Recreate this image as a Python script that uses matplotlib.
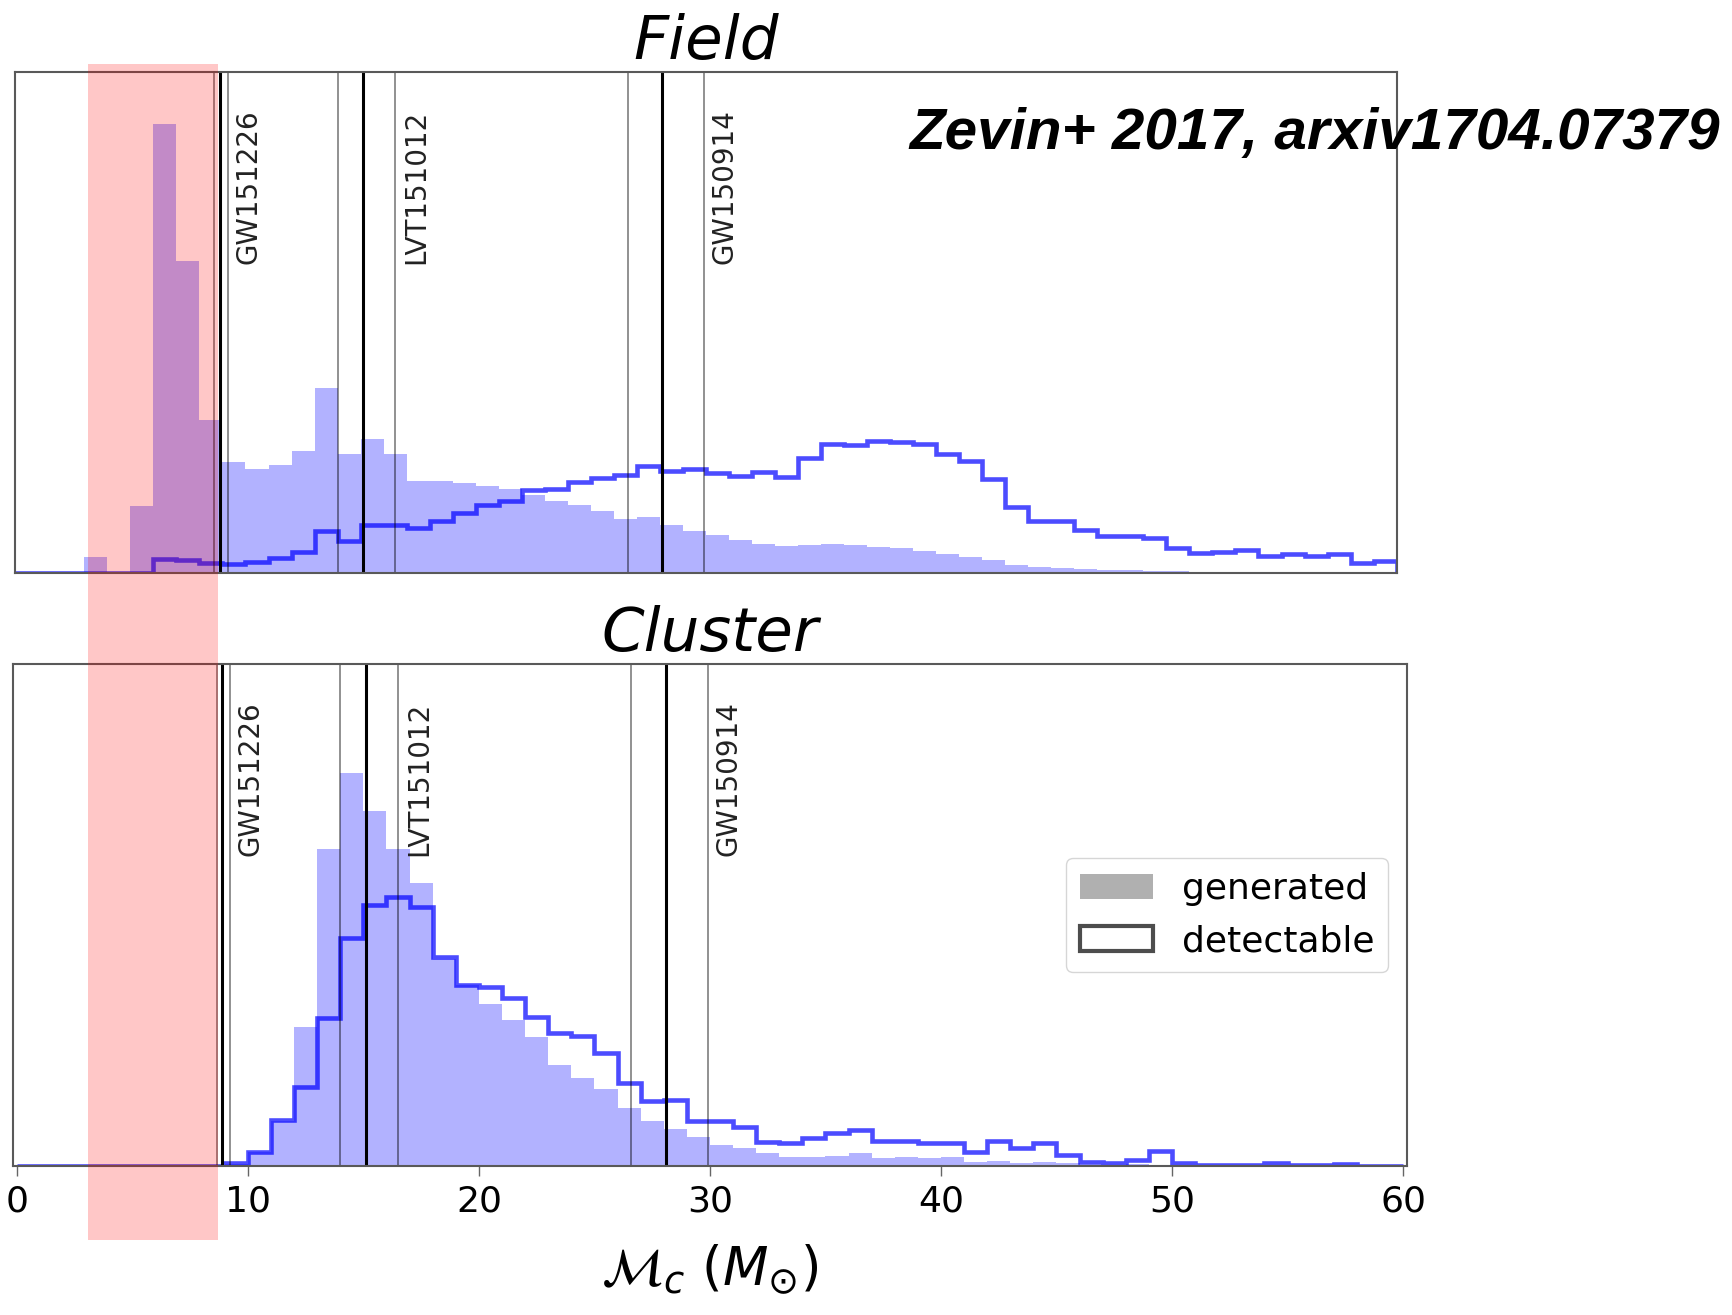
import numpy as np
import matplotlib.pyplot as plt
from matplotlib.patches import Patch, Rectangle
from matplotlib.transforms import blended_transform_factory

plt.rcParams['font.family'] = 'DejaVu Sans'

# chirp-mass bins, 1 Msun wide
mc_edges = np.arange(0, 61)

# relative bin heights (arbitrary normalisation)
field_generated = [
    0, 0, 0, 16, 0.5, 66.5, 449, 311.6, 153, 111,
    104, 107.7, 121.7, 185, 119.3, 134, 119.3, 91.7, 91.7, 90,
    86.7, 84.3, 78.3, 71.7, 68.3, 61.7, 54.3, 55.7, 47.7, 42.3,
    37.7, 33.3, 29.3, 26.7, 28.3, 29, 27.7, 26.3, 25, 21.7,
    19.3, 16, 12.7, 8.3, 6.3, 5, 4, 3, 2.7, 2,
    1.7, 1.3, 1, 0.8, 0.7, 0.6, 0.5, 0.4, 0.4, 0.3,
]
field_detectable = [
    0, 0, 0, 0, 0, 0.3, 13.8, 12.7, 10, 9,
    11, 15, 21, 42.3, 31.7, 48.3, 48.3, 45, 52.3, 59.7,
    67.7, 71.7, 83, 84.3, 91, 95, 98.3, 106.7, 102.3, 104,
    100, 97.3, 101, 95.7, 115, 129, 127.7, 131.7, 131.3, 129,
    119.3, 111.7, 94.3, 65.7, 52.3, 52.3, 43.3, 36.7, 37, 35,
    25, 20, 20.7, 23.3, 16.7, 19.3, 17.3, 19.3, 10, 12.3,
]
cluster_generated = [
    0, 0, 0, 0, 0, 0, 0, 0, 0, 2,
    14, 45, 139.3, 316.7, 392.7, 355.3, 316.7, 283.3, 207, 181,
    162, 146, 128.7, 101, 87.7, 76.7, 57.7, 45, 36.7, 29.3,
    21, 17.7, 12.7, 8.7, 9.3, 10, 12.7, 7.7, 8.7, 7.7,
    8.7, 4, 5.3, 3.3, 4, 2.7, 1.3, 1, 2, 1,
    0.7, 0.3, 0.3, 0.3, 0.3, 0.3, 0.3, 0.3, 0.3, 0.3,
]
cluster_detectable = [
    0, 0, 0, 0, 0, 0, 0, 0, 0.5, 3.3,
    14.3, 46, 79.3, 147.7, 228.3, 261, 268.7, 258.7, 209.3, 181,
    178.7, 167.7, 149.3, 133.3, 130, 113.3, 82.7, 65.3, 66, 45.3,
    45, 38.7, 24.3, 22.7, 27.7, 32.7, 36, 25.3, 25.3, 22.7,
    23.3, 14.3, 25.3, 17.7, 23.3, 11, 3.7, 2.7, 6, 15.5,
    3.5, 1.3, 0.7, 0.7, 2.7, 0.7, 0.7, 1.7, 0.5, 0.5,
]

# O1 events: chirp mass median and 90% interval
events = ['GW151226', 'LVT151012', 'GW150914']
mc_median = [8.9, 15.1, 28.1]
mc_low = [8.65, 14.0, 26.6]
mc_high = [9.23, 16.5, 29.9]

# shaded chirp-mass range
highlight = (3.1, 8.7)
xticks = [0, 10, 20, 30, 40, 50, 60]

fig = plt.figure(figsize=(17.33, 13.15), dpi=100)
ax_f = fig.add_axes([0.0088, 0.5643, 0.7971, 0.3810])
ax_c = fig.add_axes([0.0077, 0.1133, 0.8039, 0.3818])


def draw_panel(ax, generated, detectable, title, ymax, xlim, pad):
    ax.stairs(generated, mc_edges, fill=True, color='blue', alpha=0.3, lw=0)
    ax.stairs(detectable, mc_edges, color='blue', alpha=0.7, lw=3.3)
    trans = blended_transform_factory(ax.transData, ax.transAxes)
    for name, lo, mid, hi in zip(events, mc_low, mc_median, mc_high):
        ax.axvline(lo, color='k', alpha=0.55, lw=1.1)
        ax.axvline(hi, color='k', alpha=0.55, lw=1.1)
        ax.axvline(mid, color='k', lw=2.2)
        ax.text(hi + 0.3, 0.925, name, transform=trans, rotation=90,
                ha='left', va='top', fontsize=20, color='#222222')
    ax.set_xlim(*xlim)
    ax.set_ylim(0, ymax)
    ax.set_yticks([])
    ax.set_title(title, fontsize=44, style='italic', pad=pad)
    for s in ax.spines.values():
        s.set_color('0.35')
        s.set_linewidth(1.5)


draw_panel(ax_f, field_generated, field_detectable, 'Field', 501, (0, 60), 6.5)
draw_panel(ax_c, cluster_generated, cluster_detectable, 'Cluster', 502,
           (-0.15, 60.15), 8.5)

ax_f.set_xticks([])
ax_c.set_xticks(xticks)
ax_c.tick_params(axis='x', length=7, width=1, color='0.4', pad=6, labelsize=26)
ax_c.set_xlabel('$\\mathcal{M}_c\\ (M_{\u2299})$', fontsize=38, labelpad=17)

handles = [Patch(facecolor='0.69', edgecolor='none', label='generated'),
           Patch(facecolor='white', edgecolor='0.3', lw=3, label='detectable')]
ax_c.legend(handles=handles, loc='center right', fontsize=26)

# highlighted mass range spanning both panels
band = Rectangle((highlight[0], 0.057), highlight[1] - highlight[0], 0.894,
                 transform=blended_transform_factory(ax_c.transData, fig.transFigure),
                 facecolor='red', alpha=0.22, lw=0, zorder=10)
fig.add_artist(band)

fig.text(909 / 1733, 1 - 149 / 1315, 'Zevin+ 2017, arxiv1704.07379',
         fontsize=42, fontweight='bold', style='italic', family='Liberation Sans',
         ha='left', va='baseline')

fig.savefig('out.png', dpi=100)
